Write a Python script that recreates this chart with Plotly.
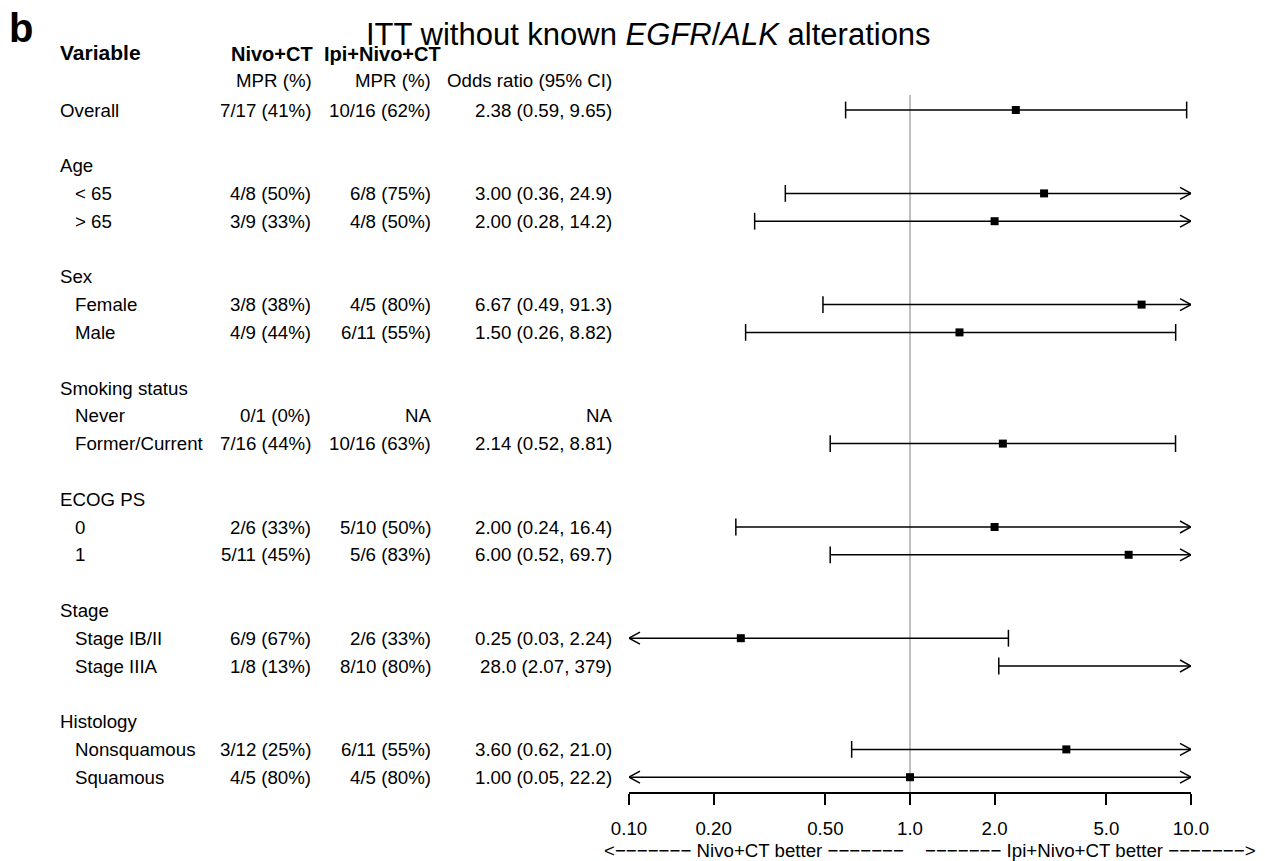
import math
import plotly.graph_objects as go

# ---------------- data ----------------
overall_label = "Overall"
overall_nivo = "7/17 (41%)"
overall_ipi = "10/16 (62%)"
overall_or_text = "2.38 (0.59, 9.65)"
overall_or = 2.38
overall_lo = 0.59
overall_hi = 9.65

group_names = ["Age", "Sex", "Smoking status", "ECOG PS", "Stage", "Histology"]
sub_labels = [["< 65", "> 65"], ["Female", "Male"], ["Never", "Former/Current"],
              ["0", "1"], ["Stage IB/II", "Stage IIIA"], ["Nonsquamous", "Squamous"]]
nivo_mpr = [["4/8 (50%)", "3/9 (33%)"], ["3/8 (38%)", "4/9 (44%)"], ["0/1 (0%)", "7/16 (44%)"],
            ["2/6 (33%)", "5/11 (45%)"], ["6/9 (67%)", "1/8 (13%)"], ["3/12 (25%)", "4/5 (80%)"]]
ipi_mpr = [["6/8 (75%)", "4/8 (50%)"], ["4/5 (80%)", "6/11 (55%)"], ["NA", "10/16 (63%)"],
           ["5/10 (50%)", "5/6 (83%)"], ["2/6 (33%)", "8/10 (80%)"], ["6/11 (55%)", "4/5 (80%)"]]
or_text = [["3.00 (0.36, 24.9)", "2.00 (0.28, 14.2)"], ["6.67 (0.49, 91.3)", "1.50 (0.26, 8.82)"],
           ["NA", "2.14 (0.52, 8.81)"], ["2.00 (0.24, 16.4)", "6.00 (0.52, 69.7)"],
           ["0.25 (0.03, 2.24)", "28.0 (2.07, 379)"], ["3.60 (0.62, 21.0)", "1.00 (0.05, 22.2)"]]
or_est = [[3.00, 2.00], [6.67, 1.50], [None, 2.14], [2.00, 6.00], [0.25, 28.0], [3.60, 1.00]]
or_lo = [[0.36, 0.28], [0.49, 0.26], [None, 0.52], [0.24, 0.52], [0.03, 2.07], [0.62, 0.05]]
or_hi = [[24.9, 14.2], [91.3, 8.82], [None, 8.81], [16.4, 69.7], [2.24, 379], [21.0, 22.2]]

tick_vals = [0.1, 0.2, 0.5, 1.0, 2.0, 5.0, 10.0]
tick_text = ["0.10", "0.20", "0.50", "1.0", "2.0", "5.0", "10.0"]
x_min, x_max = 0.1, 10.0

DASHES = "\u2212" * 7
left_dir_label = "<" + DASHES + " Nivo+CT better " + DASHES
right_dir_label = DASHES + " Ipi+Nivo+CT better " + DASHES + ">"

# ---------------- layout helpers ----------------
W, H = 1265, 861
FONT = "Liberation Sans, Arial, Helvetica, sans-serif"
FS = 18.7
FS_BOLD = 20
ROW_PX = 27.8
ROW0_PX = 110.0
AX_LEFT_PX, AX_RIGHT_PX = 629, 1191
AXIS_LINE_PX = 793

def px(xp):
    return xp / W

# build rows: (line, label, indent, nivo, ipi, ortext, est, lo, hi)
rows = []
line = 0
rows.append((line, overall_label, False, overall_nivo, overall_ipi, overall_or_text,
             overall_or, overall_lo, overall_hi))
for g, name in enumerate(group_names):
    line += 2
    rows.append((line, name, False, "", "", "", None, None, None))
    for k, lab in enumerate(sub_labels[g]):
        line += 1
        rows.append((line, lab, True, nivo_mpr[g][k], ipi_mpr[g][k], or_text[g][k],
                     or_est[g][k], or_lo[g][k], or_hi[g][k]))

y_top = -ROW0_PX / ROW_PX
y_bot = (H - ROW0_PX) / ROW_PX
axis_line_y = (AXIS_LINE_PX - ROW0_PX) / ROW_PX

fig = go.Figure()

# reference line at 1
fig.add_trace(go.Scatter(x=[1, 1], y=[-0.54, axis_line_y], mode="lines",
                         line=dict(color="#808080", width=1), hoverinfo="skip", showlegend=False))

# CI lines
lx, ly = [], []
cap_x, cap_y = [], []
arr_x, arr_y = [], []
pt_x, pt_y = [], []
dec_per_px = 2.0 / (AX_RIGHT_PX - AX_LEFT_PX)
head_len = 11 * dec_per_px
head_h = 6 / ROW_PX
for (ln, lab, ind, nv, ip, ot, est, lo, hi) in rows:
    if est is None:
        continue
    a = max(lo, x_min)
    b = min(hi, x_max)
    lx += [a, b, None]
    ly += [ln, ln, None]
    f = 10 ** head_len
    if lo >= x_min:
        cap_x.append(lo); cap_y.append(ln)
    else:
        arr_x += [x_min * f, x_min, x_min * f, None]
        arr_y += [ln - head_h, ln, ln + head_h, None]
    if hi <= x_max:
        cap_x.append(hi); cap_y.append(ln)
    else:
        arr_x += [x_max / f, x_max, x_max / f, None]
        arr_y += [ln - head_h, ln, ln + head_h, None]
    if x_min <= est <= x_max:
        pt_x.append(est); pt_y.append(ln)

fig.add_trace(go.Scatter(x=lx, y=ly, mode="lines", line=dict(color="black", width=1.5),
                         hoverinfo="skip", showlegend=False))
fig.add_trace(go.Scatter(x=arr_x, y=arr_y, mode="lines", line=dict(color="black", width=1.5),
                         hoverinfo="skip", showlegend=False))
fig.add_trace(go.Scatter(x=cap_x, y=cap_y, mode="markers",
                         marker=dict(symbol="line-ns", size=12, line=dict(color="black", width=1.5)),
                         hoverinfo="skip", showlegend=False))
fig.add_trace(go.Scatter(x=pt_x, y=pt_y, mode="markers",
                         marker=dict(symbol="square", size=8, color="black"),
                         hoverinfo="skip", showlegend=False))

ann = []
def txt(x_px, y, s, anchor="left", size=FS, bold=False, yref="y"):
    if bold:
        s = "<b>" + s + "</b>"
    ann.append(dict(x=px(x_px), y=y, xref="paper", yref=yref, text=s, showarrow=False,
                    xanchor=anchor, yanchor="middle", font=dict(family=FONT, size=size, color="black")))

# table (positions compensate ~2px annotation padding)
for (ln, lab, ind, nv, ip, ot, est, lo, hi) in rows:
    txt(73 if ind else 58, ln, lab)
    if nv:
        txt(313, ln, nv, "right")
    if ip:
        txt(433, ln, ip, "right")
    if ot:
        txt(614, ln, ot, "right")

# headers
txt(58, -2.06, "Variable", size=FS_BOLD + 1, bold=True)
txt(229, -2.03, "Nivo+CT", size=FS_BOLD, bold=True)
txt(322, -2.03, "Ipi+Nivo+CT", size=FS_BOLD, bold=True)
txt(314, -1.07, "MPR (%)", "right")
txt(433, -1.07, "MPR (%)", "right")
txt(614, -1.07, "Odds ratio (95% CI)", "right")

# bottom direction labels
txt(906, (850 - ROW0_PX) / ROW_PX, left_dir_label, "right")
txt(923, (850 - ROW0_PX) / ROW_PX, right_dir_label, "left")

# title and panel letter
ann.append(dict(x=px(648), y=1 - 34 / H, xref="paper", yref="paper",
                text="ITT without known <i>EGFR</i>/<i>ALK</i> alterations", showarrow=False,
                xanchor="center", yanchor="middle", font=dict(family=FONT, size=31, color="black")))
ann.append(dict(x=px(7), y=1 - 28 / H, xref="paper", yref="paper", text="<b>b</b>", showarrow=False,
                xanchor="left", yanchor="middle", font=dict(family=FONT, size=40, color="black")))

fig.update_layout(
    width=W, height=H,
    margin=dict(l=0, r=0, t=0, b=0, pad=0, autoexpand=False),
    paper_bgcolor="white", plot_bgcolor="white",
    annotations=ann,
    showlegend=False,
    xaxis=dict(type="log", range=[math.log10(x_min), math.log10(x_max)],
               domain=[AX_LEFT_PX / W, AX_RIGHT_PX / W],
               anchor="free", position=1 - AXIS_LINE_PX / H, automargin=False,
               showline=True, linecolor="black", linewidth=1.5,
               ticks="outside", ticklen=11, tickwidth=1.5, tickcolor="black",
               tickvals=tick_vals, ticktext=tick_text, ticklabelstandoff=8,
               tickfont=dict(family=FONT, size=FS, color="black"),
               showgrid=False, zeroline=False),
    yaxis=dict(range=[y_bot, y_top], domain=[0, 1], visible=False, showgrid=False,
               zeroline=False, automargin=False),
    font=dict(family=FONT),
)

fig.write_html("out.html")
